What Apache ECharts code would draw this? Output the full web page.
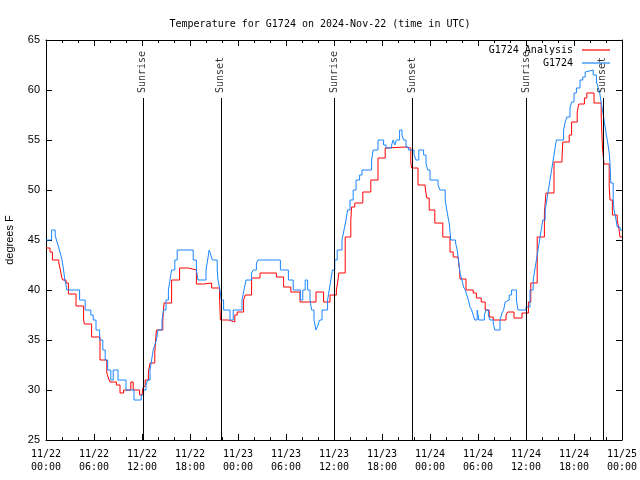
<!DOCTYPE html>
<html>
<head>
<meta charset="utf-8">
<script src="https://cdn.jsdelivr.net/npm/echarts@6/dist/echarts.min.js"></script>
<style>html,body{margin:0;padding:0;background:#fff}#c{width:640px;height:480px}</style>
</head>
<body>
<div id="c"></div>
<script>
// hours since 2024-11-22 00:00 UTC
var blueHours = [0,0.7,1.15,1.3,1.5,1.67,1.85,2.0,2.1,2.2,2.35,2.5,2.6,4.2,4.9,5.6,5.9,6.25,6.7,7.1,7.4,7.7,8.1,8.4,9.0,10.0,11.0,11.9,12.2,12.5,12.7,13.0,13.2,13.4,13.6,13.8,14.0,14.5,14.7,15.0,15.3,15.5,15.7,16.1,16.4,18.4,18.8,19.0,20.0,20.2,20.4,20.6,20.8,21.4,21.5,21.75,21.9,22.2,23.0,23.4,24.5,24.75,25.0,25.7,25.9,26.3,26.5,29.3,30.3,30.9,31.8,32.1,32.4,32.7,33.0,33.2,33.5,33.75,34.0,34.2,34.5,35.2,35.4,35.6,35.8,36.1,36.4,37.0,37.25,37.5,37.7,38.0,38.4,38.75,39.2,39.5,40.7,40.9,41.5,42.2,42.5,43.2,43.4,43.6,43.8,44.2,44.5,44.7,45.0,45.3,46.0,46.25,46.6,47.2,47.5,47.7,48.0,49.0,49.25,49.9,50.1,50.25,50.4,50.6,51.2,51.4,51.6,51.75,52.0,52.2,52.4,52.6,52.8,53.0,53.2,53.4,53.6,53.9,54.1,54.8,55.0,55.3,55.5,55.9,56.1,56.75,57.0,57.2,57.4,57.6,57.9,58.2,58.8,59.0,60.0,60.5,60.9,61.1,61.3,61.5,61.7,61.9,62.1,62.4,62.6,62.8,63.0,63.2,63.4,63.6,63.8,64.7,64.9,65.1,65.5,65.7,66.0,66.3,66.75,67.1,67.4,67.6,68.4,68.8,69.0,69.2,69.4,69.6,69.8,70.0,70.2,70.4,70.5,70.6,70.9,71.0,71.2,71.4,71.75,72];
var blueTemps = [45,46,45.5,45,44.5,44,43.5,43,42.5,42,41,40.5,40,39,38,37.5,37,36,35,34,33,32,31,32,31,30,29,29.5,30,30.5,31,32,33,34,34.5,35,36,37,38,39,40,41,42,43,44,43,42,41,42,43,44,43.5,43,42,41,40,39,38,37,38,39,40,41,41.7,42,42.7,43,42,41,40,39,40,41,40,39,38,37,36,36.5,37,38,39,40,41,42,43,44,45,46,47,48,49,50,51,51.5,52,53,54,55,54.5,54.2,54.5,55,54.5,55,56,55.5,55,54.3,54,53.5,53,54,53.5,52.7,52,51,50.5,50,49,48,47.3,46.7,45,44.7,44,42.7,41.7,41,40.3,40,39.5,39,38.3,38,37.5,37,38,37,37.5,38,37.5,37,36.7,36,37,37.7,38,38.8,39,39.5,40,39,38,38.3,40,41,42,43,44,45,46,47,48,49,50,51,52,53,54,55,56,56.8,57.3,58.2,58.8,59.7,60.2,61,61.3,61.8,62,61.5,60.8,60.3,59.8,58.7,57.8,56.8,55.7,54.8,53.7,52.7,50.7,49,48,47.3,46.3,46,46];

var redHours = [0,0.5,0.8,1.6,1.8,1.95,2.1,2.5,2.8,3.75,4.7,4.8,5.7,6.75,7.6,7.8,8.0,8.8,9.25,9.7,10.6,10.9,11.7,12.0,12.1,12.2,12.4,12.8,13.0,13.6,13.8,14.6,14.75,15.7,16.7,17.8,18.8,19.7,20.7,21.7,21.8,22.8,23.6,23.9,24.7,24.9,25.7,26.75,28.8,29.7,30.6,31.75,33.75,34.7,35.5,36.3,36.5,36.6,37.4,38.1,38.2,38.6,39.6,40.6,41.5,42.4,42.6,45.0,45.6,45.7,46.5,47.4,47.6,47.9,48.6,49.6,50.5,50.9,51.5,51.7,51.75,52.5,53.4,53.8,54.4,54.9,55.4,55.9,57.5,57.7,58.5,59.5,60.3,60.6,61.4,62.3,62.5,63.5,64.5,64.6,65.4,65.7,66.4,66.6,67.3,67.6,68.5,69.4,69.55,69.75,70.4,70.5,70.8,71.4,71.6,71.75,72];
var redTemps = [44.2,43.8,43,42.7,42,41.3,41,40.7,39.6,38.4,37,36.6,35.3,33,31.7,31.2,30.8,30.5,29.7,30,30.8,30,29.5,29.7,30.2,30.4,31,31.8,32.7,33.8,36,37,38.7,41,42.2,42,40.6,40.7,40.2,39.2,37,36.8,37.5,37.8,39,39.5,41.2,41.7,41.3,40.3,39.8,38.8,39.8,38.8,39.5,40,41,41.7,45.3,47,48.3,48.7,49.8,51,53.2,54.2,54.3,54.2,52.8,52.2,50.5,50.2,49.2,48,46.7,45.3,43.8,43.3,43.5,42,41.1,40,39.7,39.2,38.8,38,37.3,37,37.5,37.8,37.2,37.7,38.8,40.7,45.3,47.7,49.7,52.8,53.2,54.8,55.5,56.8,57.8,58.6,59.2,59.7,58.7,57.5,54.3,52.6,50.3,49,47.5,47,46.2,45.3,45.3];

var sunHours = [12.1, 21.85, 36.0, 45.75, 60.0, 69.6];
var sunLabels = ['Sunrise', 'Sunset', 'Sunrise', 'Sunset', 'Sunrise', 'Sunset'];

var seriesNames = ['G1724 Analysis', 'G1724'];
var titleText = 'Temperature for G1724 on 2024-Nov-22 (time in UTC)';
var yName = 'degrees F';

function zip(a, b) { return a.map(function (v, i) { return [v, b[i]]; }); }

var MONO = 'DejaVu Sans Mono';
var SANS = 'Liberation Sans';

function xLabel(h) {
  var day = 22 + Math.floor(h / 24);
  var hr = Math.round(h % 24);
  return '11/' + day + '\n' + (hr < 10 ? '0' : '') + hr + ':00';
}

var chart = echarts.init(document.getElementById('c'), null, { renderer: 'canvas' });

var xCommon = {
  type: 'value', min: 0, max: 72, interval: 6,
  axisLine: { show: true, onZero: false, lineStyle: { color: '#000', width: 1 } },
  axisTick: { show: true, inside: true, length: 6, lineStyle: { color: '#000' } },
  minorTick: { show: true, splitNumber: 3, length: 3, lineStyle: { color: '#000' } },
  splitLine: { show: false }
};
var yCommon = {
  type: 'value', min: 25, max: 65, interval: 5,
  axisLine: { show: true, onZero: false, lineStyle: { color: '#000', width: 1 } },
  axisTick: { show: true, inside: true, length: 6, lineStyle: { color: '#000' } },
  splitLine: { show: false }
};

var option = {
  animation: false,
  backgroundColor: '#fff',
  title: {
    text: titleText, left: 'center', top: 14,
    textStyle: { fontFamily: MONO, fontSize: 10, fontWeight: 'normal', color: '#000' }
  },
  legend: {
    data: [
      { name: seriesNames[0], icon: 'rect' },
      { name: seriesNames[1], icon: 'rect' }
    ],
    orient: 'vertical', right: 25, top: 39, align: 'right',
    itemWidth: 28, itemHeight: 1.2, itemGap: 1,
    textStyle: { fontFamily: MONO, fontSize: 10, color: '#000', lineHeight: 12, padding: [0, 4, 0, 0] }
  },
  grid: { left: 46, right: 18, top: 40, bottom: 40, containLabel: false, outerBoundsMode: 'none' },
  xAxis: [
    Object.assign({}, xCommon, {
      position: 'bottom',
      axisLabel: {
        show: true, margin: 8, color: '#000', fontFamily: MONO, fontSize: 10, lineHeight: 13,
        formatter: xLabel
      }
    }),
    Object.assign({}, xCommon, { position: 'top', axisLabel: { show: false } })
  ],
  yAxis: [
    Object.assign({}, yCommon, {
      position: 'left',
      name: yName, nameLocation: 'middle', nameGap: 31, nameRotate: 90,
      nameTextStyle: { fontFamily: SANS, fontSize: 11, color: '#000' },
      axisLabel: { show: true, margin: 6, color: '#000', fontFamily: SANS, fontSize: 11 }
    }),
    Object.assign({}, yCommon, { position: 'right', axisLabel: { show: false } })
  ],
  series: [
    {
      name: seriesNames[0], type: 'line', step: 'end', showSymbol: false, symbol: 'none',
      data: zip(redHours, redTemps), color: '#ff0000',
      lineStyle: { color: '#ff0000', width: 1 }, z: 3
    },
    {
      name: seriesNames[1], type: 'line', step: 'end', showSymbol: false, symbol: 'none',
      data: zip(blueHours, blueTemps), color: '#1a86ff',
      lineStyle: { color: '#1a86ff', width: 1 }, z: 4
    },
    {
      name: 'sun', type: 'scatter', symbolSize: 0, silent: true, z: 5,
      data: sunHours.map(function (h, i) { return { value: [h, 59.7], label: { formatter: sunLabels[i] } }; }),
      label: {
        show: true, position: [0, 0], rotate: 90, align: 'left', verticalAlign: 'middle',
        fontFamily: MONO, fontSize: 10, color: '#000'
      },
      markLine: {
        silent: true, symbol: 'none', label: { show: false },
        lineStyle: { color: '#000', width: 1, type: 'solid' },
        data: sunHours.map(function (h) { return [{ coord: [h, 25] }, { coord: [h, 59.2] }]; })
      }
    }
  ]
};
chart.setOption(option);
</script>
</body>
</html>
